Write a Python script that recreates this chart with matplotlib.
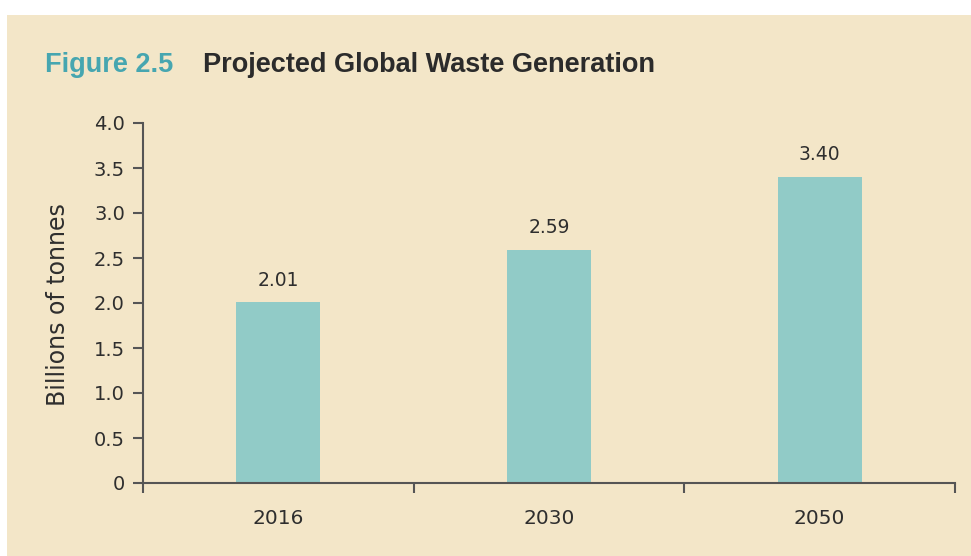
import matplotlib.pyplot as plt
from matplotlib.patches import Rectangle

years = ["2016", "2030", "2050"]
waste = [2.01, 2.59, 3.40]
yticks = [0, 0.5, 1.0, 1.5, 2.0, 2.5, 3.0, 3.5, 4.0]
ytick_labels = ["0", "0.5", "1.0", "1.5", "2.0", "2.5", "3.0", "3.5", "4.0"]

bg = "#f3e6c8"
bar_color = "#91cbc7"
axis_color = "#555555"
text_color = "#2e2e2e"

fig = plt.figure(figsize=(9.71, 5.56), dpi=100, facecolor="white")
fig.patches.append(Rectangle((7 / 971, 0), 1, 1 - 15 / 556, transform=fig.transFigure,
                             facecolor=bg, edgecolor="none", zorder=-10))

ax = fig.add_axes([143 / 971, 1 - 483 / 556, 812 / 971, 360 / 556])
ax.set_facecolor("none")

pos = [i + 0.5 for i in range(len(years))]
bars = ax.bar(pos, waste, width=0.31, color=bar_color, zorder=2)
for x, v in zip(pos, waste):
    ax.annotate(f"{v:.2f}", (x, v), xytext=(0, 9), textcoords="offset points",
                ha="center", va="bottom", fontsize=13.5, color=text_color,
                family="DejaVu Sans")

ax.set_xlim(0, 3)
ax.set_ylim(0, 4)
ax.set_yticks(yticks)
ax.set_yticklabels(ytick_labels)
ax.set_xticks([0, 1, 2, 3])
ax.set_xticklabels([])
ax.set_xticks(pos, minor=True)
ax.set_xticklabels(years, minor=True)

for s in ["top", "right"]:
    ax.spines[s].set_visible(False)
for s in ["left", "bottom"]:
    ax.spines[s].set_color(axis_color)
    ax.spines[s].set_linewidth(1.5)

ax.tick_params(axis="y", direction="out", length=7, width=1.5, color=axis_color,
               labelsize=14, labelcolor=text_color, pad=6)
ax.tick_params(axis="x", which="major", direction="out", length=7, width=1.5,
               color=axis_color)
ax.tick_params(axis="x", which="minor", length=0, labelsize=14.5,
               labelcolor=text_color, pad=19)
for lab in ax.get_xticklabels(minor=True) + ax.get_yticklabels():
    lab.set_family("DejaVu Sans")

fig.text(58 / 971, 1 - 305 / 556, "Billions of tonnes", rotation=90, ha="center",
         va="center", fontsize=17, color=text_color, family="DejaVu Sans")

fig.text(45 / 971, 1 - 72 / 556, "Figure 2.5", ha="left", va="baseline",
         fontsize=19.5, fontweight="bold", color="#46a6b0", family="Liberation Sans")
fig.text(203 / 971, 1 - 72 / 556, "Projected Global Waste Generation", ha="left",
         va="baseline", fontsize=19.5, fontweight="bold", color="#2b2b2b",
         family="Liberation Sans")

fig.savefig("out.png", dpi=100, facecolor="white")
